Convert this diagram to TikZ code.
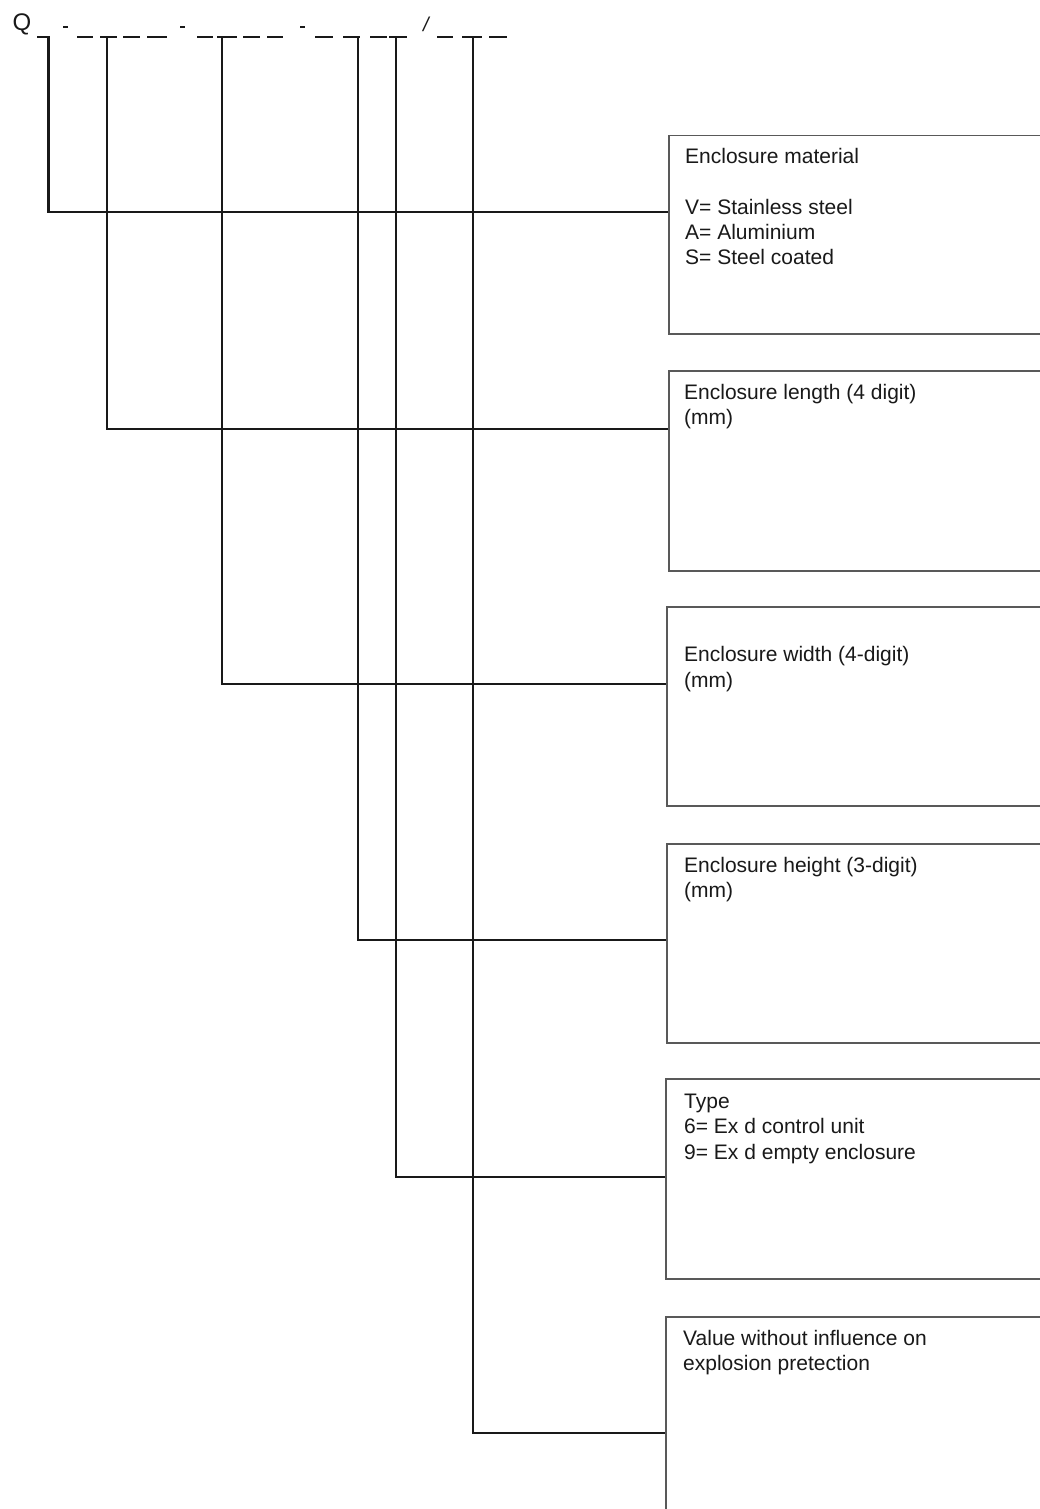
\documentclass[tikz,border=0pt]{standalone}
\usepackage{fontspec}
\setmainfont{Liberation Sans}
\begin{document}
\begin{tikzpicture}[x=1pt,y=-1pt,
  conn/.style={line width=2.2pt, black!90},
  blank/.style={line width=2.2pt, black!90},
  boxs/.style={draw=black!65, line width=1.5pt},
  lbl/.style={anchor=base west, inner sep=0pt, text=black!90, font=\fontsize{21}{25}\selectfont},
  codetxt/.style={inner sep=0pt, text=black!90, font=\fontsize{24}{28}\selectfont}]
\useasboundingbox (0,0) rectangle (1040,1509);
\fill[white] (0,0) rectangle (1040,1509);
% code string
\node[codetxt] (Q) at (22,24) {Q};
\node[codetxt, font=\fontsize{20}{24}\selectfont\itshape] (slash) at (426,24) {/};
\foreach \a/\b in {37/50, 77/93, 100/117, 123/140, 147/167, 197/213, 217/237, 243/260, 267/283, 315/333, 343/360, 370/387, 389/407, 437/453, 462/482, 489/507}
  \draw[blank] (\a,37) -- (\b,37);
\foreach \a in {63, 180, 300}
  \draw[blank, line width=1.6pt] (\a,27) -- (\a+5,27);
\coordinate (t1) at (48.5,37);
\coordinate (t2) at (107,37);
\coordinate (t3) at (222,37);
\coordinate (t4) at (358,37);
\coordinate (t5) at (396,37);
\coordinate (t6) at (473,37);
% boxes
\node[boxs, anchor=north west, minimum width=382pt, minimum height=198pt, inner sep=0pt] (b1) at (668,135) {};
\node[boxs, anchor=north west, minimum width=382pt, minimum height=200pt, inner sep=0pt] (b2) at (668,370) {};
\node[boxs, anchor=north west, minimum width=384pt, minimum height=199pt, inner sep=0pt] (b3) at (666,606) {};
\node[boxs, anchor=north west, minimum width=384pt, minimum height=199pt, inner sep=0pt] (b4) at (666,843) {};
\node[boxs, anchor=north west, minimum width=385pt, minimum height=200pt, inner sep=0pt] (b5) at (665,1078) {};
\node[boxs, anchor=north west, minimum width=385pt, minimum height=220pt, inner sep=0pt] (b6) at (665,1316) {};
% texts
\node[lbl] (l1a) at (685,163) {Enclosure material};
\node[lbl] (l1b) at (685,214) {V= Stainless steel};
\node[lbl] (l1c) at (685,239) {A= Aluminium};
\node[lbl] (l1d) at (685,264) {S= Steel coated};
\node[lbl] (l2a) at (684,399) {Enclosure length (4 digit)};
\node[lbl] (l2b) at (684,424) {(mm)};
\node[lbl] (l3a) at (684,661) {Enclosure width (4-digit)};
\node[lbl] (l3b) at (684,687) {(mm)};
\node[lbl] (l4a) at (684,872) {Enclosure height (3-digit)};
\node[lbl] (l4b) at (684,897) {(mm)};
\node[lbl] (l5a) at (684,1108) {Type};
\node[lbl] (l5b) at (684,1133) {6= Ex d control unit};
\node[lbl] (l5c) at (684,1159) {9= Ex d empty enclosure};
\node[lbl] (l6a) at (683,1345) {Value without influence on};
\node[lbl] (l6b) at (683,1370) {explosion pretection};
% connectors
\coordinate (y1) at (0,212);
\coordinate (y2) at (0,429);
\coordinate (y3) at (0,684);
\coordinate (y4) at (0,940);
\coordinate (y5) at (0,1177);
\coordinate (y6) at (0,1433);
\draw[conn] (t1) |- (b1.west |- y1);
\draw[conn] (t2) |- (b2.west |- y2);
\draw[conn] (t3) |- (b3.west |- y3);
\draw[conn] (t4) |- (b4.west |- y4);
\draw[conn] (t5) |- (b5.west |- y5);
\draw[conn] (t6) |- (b6.west |- y6);
\end{tikzpicture}
\end{document}
